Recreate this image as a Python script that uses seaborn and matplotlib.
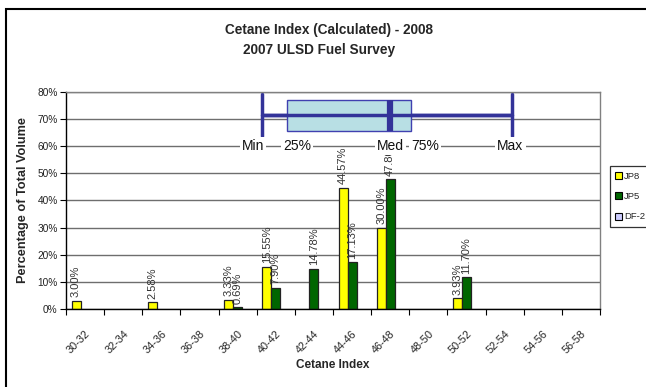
import numpy as np
import pandas as pd
import seaborn as sns
import matplotlib.pyplot as plt
from matplotlib.patches import Rectangle, Patch
from matplotlib.ticker import PercentFormatter, FixedLocator

# Cetane index bins
categories = ["30-32", "32-34", "34-36", "36-38", "38-40", "40-42", "42-44",
              "44-46", "46-48", "48-50", "50-52", "52-54", "54-56", "56-58"]
nan = np.nan
# Percentage of total volume per bin
jp8 = [3.00, nan, 2.58, nan, 3.33, 15.55, nan, 44.57, 30.00, nan, 3.93, nan, nan, nan]
jp5 = [nan, nan, nan, nan, 0.69, 7.90, 14.78, 17.13, 47.80, nan, 11.70, nan, nan, nan]
df2 = [nan] * len(categories)
fuels = ["JP8", "JP5", "DF-2"]
fuel_colors = ["#FFFF00", "#006600", "#CCCCFF"]

# DF-2 distribution summary (cetane index)
df2_min, df2_q1, df2_med, df2_q3, df2_max = 40.3, 41.6, 47.0, 48.1, 53.4
box_labels = ["Min", "25%", "Med", "75%", "Max"]

sns.set_theme(style="white")
plt.rcParams["font.family"] = ["Liberation Sans", "DejaVu Sans"]

long = pd.DataFrame({
    "range": categories * 3,
    "fuel": [f for f in fuels for _ in categories],
    "pct": jp8 + jp5 + df2,
}).dropna()

fig = plt.figure(figsize=(6.46, 3.87), dpi=100)
ax = fig.add_axes([66 / 646, 1 - 309 / 387, 534 / 646, (309 - 91.7) / 387])

sns.barplot(data=long, x="range", y="pct", hue="fuel", order=categories,
            hue_order=fuels, palette=fuel_colors, saturation=1, width=0.71,
            edgecolor="#222222", linewidth=0.9, legend=False, ax=ax)

for cont in ax.containers:
    ax.bar_label(cont, fmt="%.2f%%", rotation=90, padding=2.5, fontsize=8,
                 color="#333333")

# Box-and-whisker for DF-2, placed on the category axis
def to_pos(v):
    return (v - 30) / 2 - 0.5

box_y = 71.3
stats = [{"whislo": to_pos(df2_min), "q1": to_pos(df2_q1), "med": to_pos(df2_med),
          "q3": to_pos(df2_q3), "whishi": to_pos(df2_max), "fliers": []}]
blue = "#333399"
ax.bxp(stats, positions=[box_y], widths=11.3, orientation="horizontal",
       patch_artist=True, manage_ticks=False, showfliers=False, capwidths=15.5,
       boxprops=dict(facecolor="#B8DFE4", edgecolor="#4040B0", linewidth=1.0),
       whiskerprops=dict(color=blue, linewidth=2.5),
       capprops=dict(color=blue, linewidth=2.5),
       medianprops=dict(color=blue, linewidth=4.5, zorder=4))
# whisker line runs through the box
ax.plot([to_pos(df2_min), to_pos(df2_max)], [box_y, box_y], color=blue,
        linewidth=2.5, zorder=3.5, solid_capstyle="butt")

label_specs = [(df2_min, 0.05, "right"), (df2_q1, -0.1, "left"),
               (df2_med, 0.0, "center"), (df2_q3, 0.0, "left"),
               (df2_max, -0.05, "center")]
for txt, (v, dx, ha) in zip(box_labels, label_specs):
    ax.text(to_pos(v) + dx, 60, txt, ha=ha, va="center", fontsize=10,
            color="#111111", zorder=5,
            bbox=dict(facecolor="white", edgecolor="none", pad=1.5))

ax.set_xlim(-0.5, len(categories) - 0.5)
ax.set_ylim(0, 80)
ax.yaxis.set_major_locator(FixedLocator(np.arange(0, 81, 10)))
ax.yaxis.set_major_formatter(PercentFormatter(decimals=0))
ax.yaxis.grid(True, color="#6e6e6e", linewidth=1.0)
ax.set_axisbelow(True)

ax.set_xticks(range(len(categories)))
ax.set_xticklabels(categories, rotation=45, ha="right", rotation_mode="anchor",
                   fontsize=7.8, color="#222222")
ax.xaxis.set_minor_locator(FixedLocator(np.arange(-0.5, len(categories), 1)))
ax.tick_params(axis="x", which="major", length=0, pad=14)
ax.tick_params(axis="x", which="minor", length=4, width=0.8, color="black",
               direction="out", bottom=True)
ax.tick_params(axis="y", which="major", length=4, width=0.8, color="black",
               direction="out", left=True, labelsize=7.3, labelcolor="#222222", pad=2)

for side in ["left", "bottom"]:
    ax.spines[side].set_color("black")
    ax.spines[side].set_linewidth(1.0)
for side in ["top", "right"]:
    ax.spines[side].set_color("#808080")
    ax.spines[side].set_linewidth(1.0)

ax.set_xlabel("Cetane Index", fontsize=8.5, fontweight="bold", labelpad=3)
ax.set_ylabel("Percentage of Total Volume", fontsize=9.2, fontweight="bold",
              labelpad=6)

fig.text(329 / 646, 1 - 30 / 387, "Cetane Index (Calculated) - 2008", ha="center",
         va="center", fontsize=9.8, fontweight="bold")
fig.text(319 / 646, 1 - 50 / 387, "2007 ULSD Fuel Survey", ha="center",
         va="center", fontsize=9.8, fontweight="bold")

handles = [Patch(facecolor=c, edgecolor="black", linewidth=0.8) for c in fuel_colors]
leg = fig.legend(handles, fuels, loc="upper left", bbox_to_anchor=(609.5 / 646, 1 - 166.5 / 387),
                 frameon=True, fancybox=False, edgecolor="black", fontsize=6.8,
                 handlelength=0.75, handleheight=0.75, labelspacing=1.2,
                 borderpad=0.55, handletextpad=0.25, borderaxespad=0)
leg.get_frame().set_linewidth(0.9)

# Chart frame
fig.patches.append(Rectangle((6 / 646, -0.1), 1.1, 1.1 - 9.5 / 387,
                             transform=fig.transFigure, fill=False,
                             edgecolor="black", linewidth=1.5))

fig.savefig("out.png", dpi=100)
